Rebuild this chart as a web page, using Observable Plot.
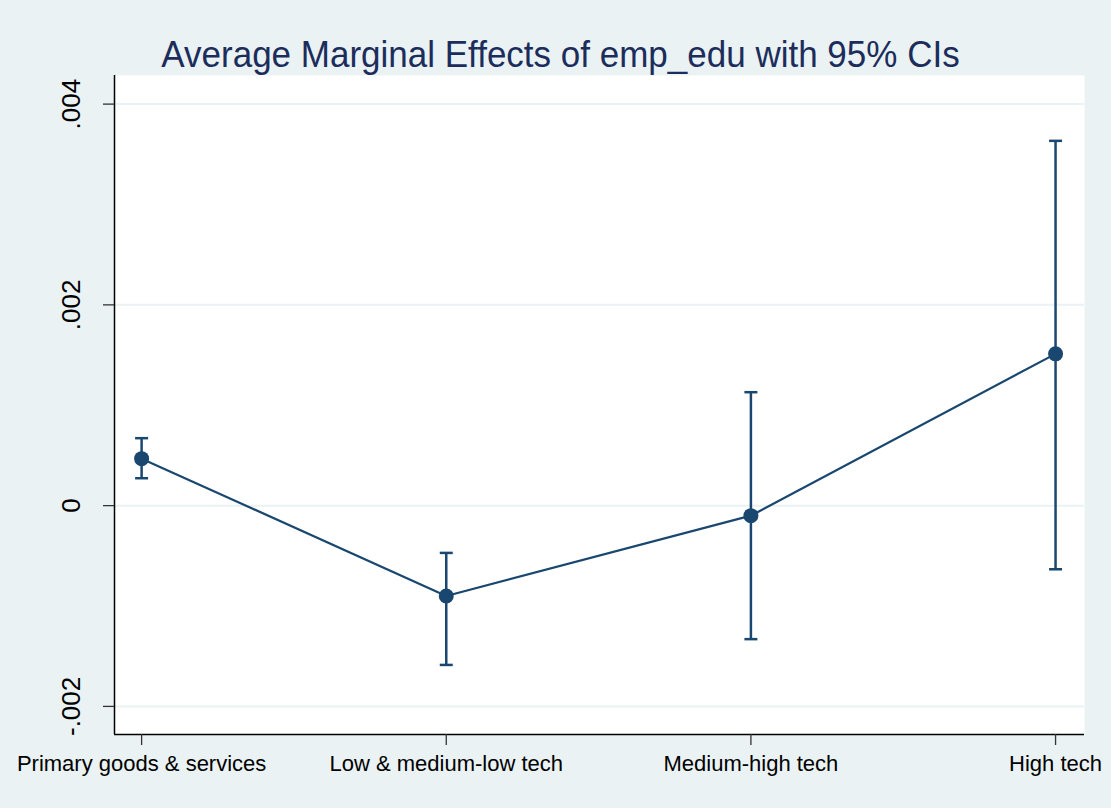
<!DOCTYPE html>
<html>
<head>
<meta charset="utf-8">
<script src="https://cdn.jsdelivr.net/npm/d3@7"></script>
<script src="https://cdn.jsdelivr.net/npm/@observablehq/plot@0.6"></script>
<style>
  html, body { margin: 0; padding: 0; background: #EAF2F3; }
  #wrap { position: relative; width: 1111px; height: 808px; background: #EAF2F3; overflow: hidden; }
  #title { position: absolute; left: 5px; width: 1111px; top: 37px; text-align: center;
           font-family: "Liberation Sans", Arial, sans-serif; font-size: 35px; line-height: 35px;
           color: #1c2d5c; white-space: nowrap; transform: scaleY(1.08); transform-origin: 50% 100%; }
  #chart { position: absolute; left: 0; top: 75px; }
</style>
</head>
<body>
<div id="wrap">
  <div id="title">Average Marginal Effects of emp_edu with 95% CIs</div>
  <div id="chart"></div>
</div>
<script>
const categories = ["Primary goods & services", "Low & medium-low tech", "Medium-high tech", "High tech"];
const margins = [0.000468, -0.000900, -0.000100, 0.001512];
const ciLow   = [0.000273, -0.001587, -0.001330, -0.000634];
const ciHigh  = [0.000672, -0.000471, 0.001130, 0.003634];
const yTicks = [-0.002, 0, 0.002, 0.004];
const yTickLabels = ["-.002", "0", ".002", ".004"];
const xTicks = [0, 1, 2, 3];

const data = categories.map((c, i) => ({i, cat: c, m: margins[i], lo: ciLow[i], hi: ciHigh[i]}));
const tickData = yTicks.map((v, k) => ({v, label: yTickLabels[k]}));

const navy = "#1a476f";
const xDomain = [-0.089, 3.095];
const yDomain = [-0.00228, 0.004285];
const capSymbol = { draw(ctx) { ctx.moveTo(-6.5, 0); ctx.lineTo(6.5, 0); } };

const chart = Plot.plot({
  width: 1111,
  height: 733,
  marginTop: 0,
  marginBottom: 74,
  marginLeft: 114,
  marginRight: 27,
  style: { background: "transparent", fontFamily: "'Liberation Sans', Arial, sans-serif", color: "#000" },
  x: { type: "linear", domain: xDomain, label: null },
  y: { type: "linear", domain: yDomain, label: null },
  marks: [
    Plot.frame({ fill: "white", stroke: null }),
    Plot.gridY(yTicks, { stroke: "#EAF2F3", strokeOpacity: 1, strokeWidth: 2 }),
    Plot.ruleX([xDomain[0]], { stroke: "#000", strokeWidth: 1.5 }),
    Plot.ruleY([yDomain[0]], { stroke: "#000", strokeWidth: 1.5 }),
    Plot.axisY({ ticks: yTicks, tickSize: 11, tickFormat: () => "", stroke: "#333", strokeWidth: 1.3, label: null }),
    Plot.text(tickData, { y: "v", text: "label", frameAnchor: "left", dx: -43, rotate: -90,
                          textAnchor: "middle", lineAnchor: "middle", fontSize: 26, fill: "#000" }),
    Plot.axisX({ ticks: xTicks, tickFormat: i => categories[i], tickSize: 11, tickPadding: 10,
                 fontSize: 22, stroke: "#333", strokeWidth: 1.3, fill: "#000", label: null }),
    Plot.ruleX(data, { x: "i", y1: "lo", y2: "hi", stroke: navy, strokeWidth: 2.5 }),
    Plot.dot(data, { x: "i", y: "lo", symbol: capSymbol, stroke: navy, strokeWidth: 2.5, fill: "none" }),
    Plot.dot(data, { x: "i", y: "hi", symbol: capSymbol, stroke: navy, strokeWidth: 2.5, fill: "none" }),
    Plot.line(data, { x: "i", y: "m", stroke: navy, strokeWidth: 2.2 }),
    Plot.dot(data, { x: "i", y: "m", r: 7.5, fill: navy, stroke: "none" })
  ]
});
document.getElementById("chart").appendChild(chart);
</script>
</body>
</html>
